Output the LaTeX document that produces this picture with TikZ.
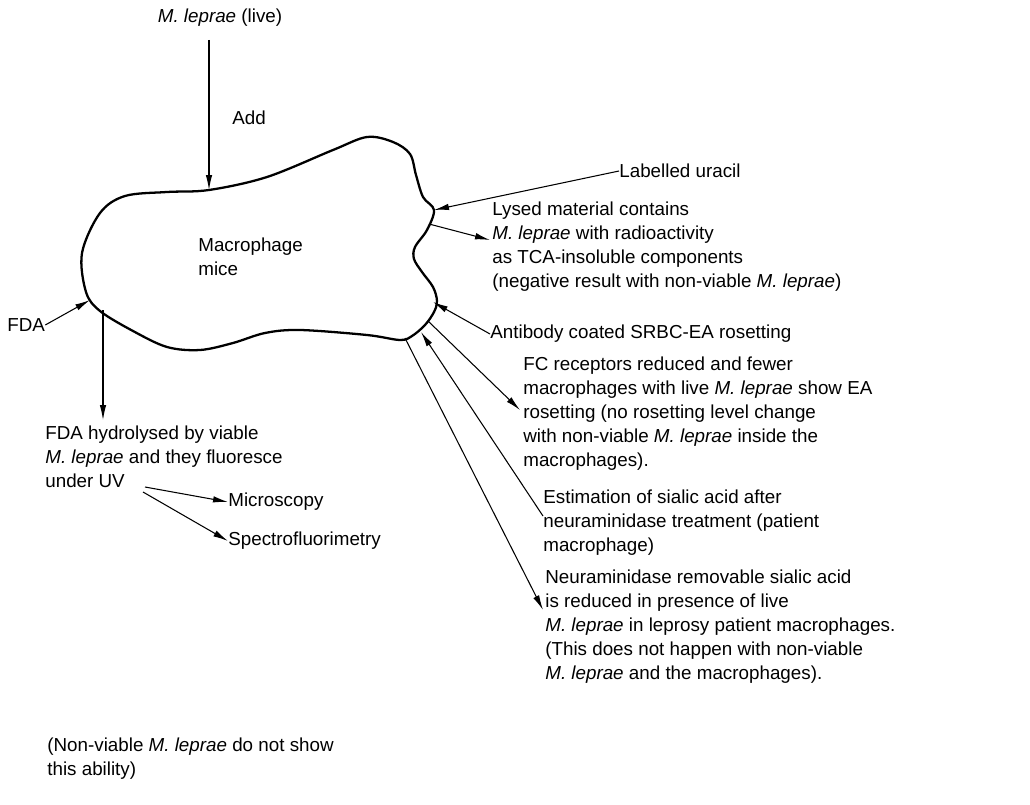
\documentclass[tikz,border=0pt]{standalone}
\usepackage{fontspec}
\setmainfont{Liberation Sans}
\usetikzlibrary{arrows.meta}

\begin{document}
\begin{tikzpicture}[x=0.02cm,y=-0.02cm,
  lbl/.style={font=\fontsize{10.7}{13.6}\selectfont,inner sep=0pt,align=left},
  arr/.style={-{Latex[length=3mm,width=1.3mm]},line width=0.6pt},
  cell/.style={line width=1.3pt}]

\useasboundingbox (0,0) rectangle (1030,804);

% Macrophage outline
\draw[cell] plot[smooth cycle,tension=0.55] coordinates {
  (82,253) (100,213) (125,196) (167,192) (209,190) (267,177) (333,150)
  (367,137) (393,142) (410,154) (416,175) (423,197) (434,210) (427,230)
  (415,247) (414,259) (422,272) (433,287) (437,301) (434,312) (425,325)
  (412,336) (400,340) (367,335) (300,330) (265,333) (233,343) (200,350)
  (167,347) (133,331) (100,311) (86,292)};
\node[lbl,anchor=north west] (cell) at (198,238) {Macrophage\\mice};

% contact points on the outline
\coordinate (ctop) at (209,190);
\coordinate (curacil) at (434,210);
\coordinate (clysed) at (429,224);
\coordinate (cab) at (433,302);
\coordinate (cfc) at (428,321);
\coordinate (csia) at (421,332);
\coordinate (cneu) at (405,338);
\coordinate (cfda) at (90,300);
\coordinate (cdown) at (103,310);

% Top input
\node[lbl] (live) at (220,18) {\textit{M. leprae} (live)};
\coordinate (livefoot) at (209,40);
\node[lbl,anchor=west] (add) at (232,118) {Add};
\draw[arr] (livefoot) -- (ctop);

% Right side
\node[lbl,anchor=west] (uracil) at (619,171) {Labelled uracil};
\draw[arr] (uracil.west) -- (curacil);

\node[lbl,anchor=north west] (lysed) at (492,202) {Lysed material contains\\
  \textit{M. leprae} with radioactivity\\
  as TCA-insoluble components\\
  (negative result with non-viable \textit{M. leprae})};
\coordinate (lysedtip) at (490,240);
\draw[arr] (clysed) -- (lysedtip);

\node[lbl,anchor=west] (antibody) at (490,334) {Antibody coated SRBC-EA rosetting};
\draw[arr] (antibody.west) -- (cab);

\node[lbl,anchor=north west] (fcrec) at (523,357) {FC receptors reduced and fewer\\
  macrophages with live \textit{M. leprae} show EA\\
  rosetting (no rosetting level change\\
  with non-viable \textit{M. leprae} inside the\\
  macrophages).};
\coordinate (fctip) at (520,410);
\draw[arr] (cfc) -- (fctip);

\node[lbl,anchor=north west] (sialic) at (543,490) {Estimation of sialic acid after\\
  neuraminidase treatment (patient\\
  macrophage)};
\coordinate (siafoot) at (543,516);
\draw[arr] (siafoot) -- (csia);

\node[lbl,anchor=north west] (neura) at (545,570) {Neuraminidase removable sialic acid\\
  is reduced in presence of live\\
  \textit{M. leprae} in leprosy patient macrophages.\\
  (This does not happen with non-viable\\
  \textit{M. leprae} and the macrophages).};
\coordinate (neutip) at (543,610);
\draw[arr] (cneu) -- (neutip);

% Left side
\node[lbl,anchor=west] (fda) at (7,325) {FDA};
\draw[arr] (fda.east) -- (cfda);

\node[lbl,anchor=north west] (hydro) at (45,426) {FDA hydrolysed by viable\\
  \textit{M. leprae} and they fluoresce\\
  under UV};
\coordinate (hydrotip) at (103,420);
\draw[arr] (cdown) -- (hydrotip);

\node[lbl,anchor=west] (micro) at (228,502) {Microscopy};
\node[lbl,anchor=west] (spectro) at (228,541) {Spectrofluorimetry};
\coordinate (uv) at (145,487);
\coordinate (uvb) at (143,492);
\draw[arr] (uv) -- (micro.west);
\draw[arr] (uvb) -- (spectro.west);

\node[lbl,anchor=north west] (nonviable) at (47,738) {(Non-viable \textit{M. leprae} do not show\\
  this ability)};
\end{tikzpicture}
\end{document}
